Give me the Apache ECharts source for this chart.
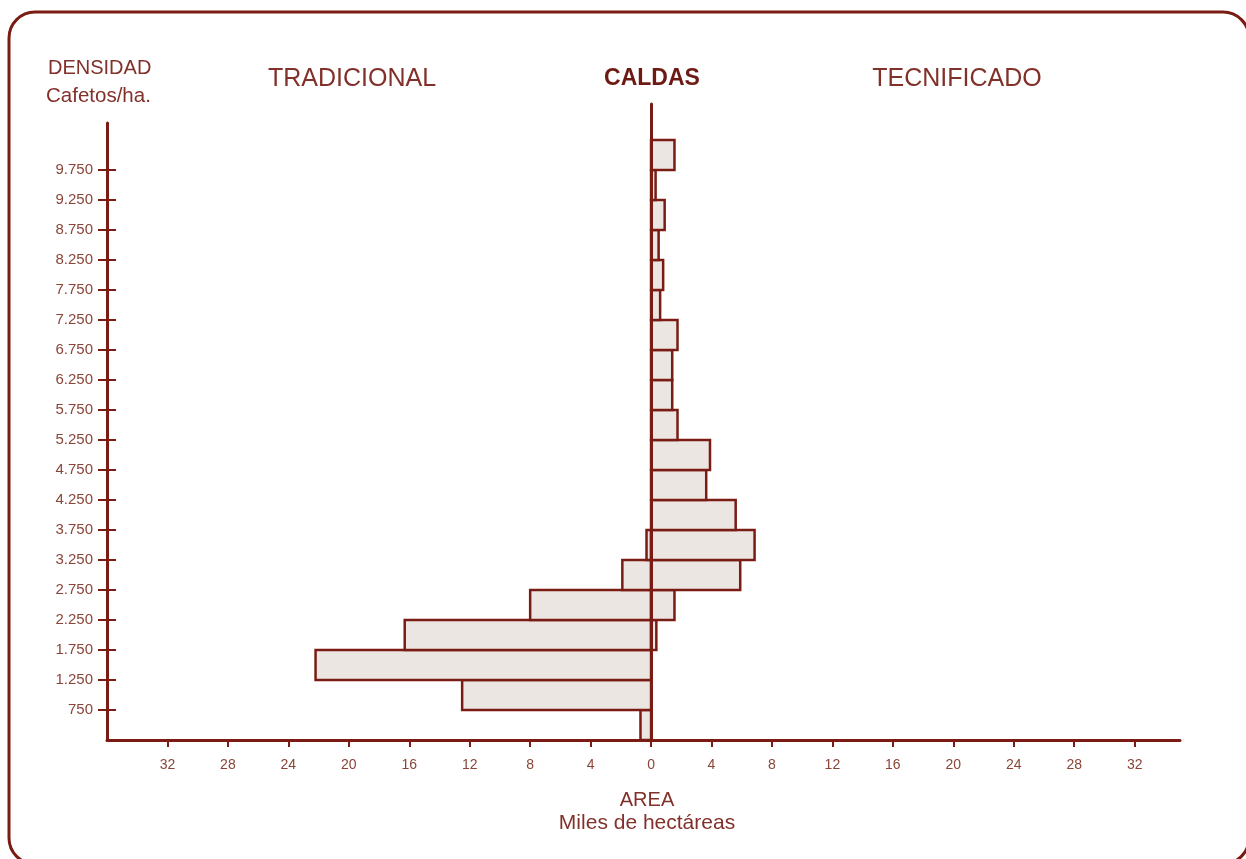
<!DOCTYPE html>
<html>
<head>
<meta charset="utf-8">
<script src="https://cdn.jsdelivr.net/npm/echarts@6/dist/echarts.min.js"></script>
<style>
html,body{margin:0;padding:0;background:#fff;}
#chart{width:1246px;height:859px;}
</style>
</head>
<body>
<div id="chart"></div>
<script>
// Density class boundaries (Cafetos/ha.) shown on the vertical axis
const densityLabels = ['750','1.250','1.750','2.250','2.750','3.250','3.750','4.250','4.750','5.250','5.750','6.250','6.750','7.250','7.750','8.250','8.750','9.250','9.750'];
// Area (miles de hectáreas) per density class, from lowest class upwards (20 classes)
const tradicional = [0.7, 12.5, 22.2, 16.3, 8.0, 1.9, 0.3, 0, 0, 0, 0, 0, 0, 0, 0, 0, 0, 0, 0, 0];
const tecnificado = [0, 0, 0, 0.35, 1.55, 5.9, 6.85, 5.6, 3.65, 3.9, 1.75, 1.4, 1.4, 1.75, 0.6, 0.8, 0.5, 0.9, 0.3, 1.55];
const xTickValues = [-32, -28, -24, -20, -16, -12, -8, -4, 0, 4, 8, 12, 16, 20, 24, 28, 32];

const LINE = '#7a1c14';
const TEXT = '#82302a';
const TICKTEXT = '#8a4538';
const FILL = '#ece6e3';
const FONT = '"Liberation Sans", Arial, sans-serif';

const yTickValues = densityLabels.map((_, i) => i + 1);

function renderBar(params, api) {
  const i = api.value(0);
  const v = api.value(1);
  if (!v) return null;
  const p0 = api.coord([0, i]);
  const p1 = api.coord([v, i + 1]);
  const x = Math.min(p0[0], p1[0]);
  return {
    type: 'rect',
    shape: { x: x, y: p1[1], width: Math.abs(p1[0] - p0[0]), height: p0[1] - p1[1] },
    style: { fill: FILL, stroke: LINE, lineWidth: 2.5 }
  };
}

const chart = echarts.init(document.getElementById('chart'));
chart.setOption({
  animation: false,
  backgroundColor: '#fff',
  textStyle: { fontFamily: FONT },
  graphic: [
    { type: 'rect', shape: { x: 9, y: 12, width: 1240, height: 852, r: 26 },
      style: { fill: 'none', stroke: LINE, lineWidth: 3 }, z: -1 },
    { type: 'text', x: 48, y: 68, style: { text: 'DENSIDAD', fill: TEXT, font: '20px ' + FONT, verticalAlign: 'middle' } },
    { type: 'text', x: 46, y: 96, style: { text: 'Cafetos/ha.', fill: TEXT, font: '20.5px ' + FONT, verticalAlign: 'middle' } },
    { type: 'text', x: 352, y: 79, style: { text: 'TRADICIONAL', fill: TEXT, font: '25px ' + FONT, align: 'center', verticalAlign: 'middle' } },
    { type: 'text', x: 652, y: 79, style: { text: 'CALDAS', fill: '#6e1a14', font: 'bold 23px ' + FONT, align: 'center', verticalAlign: 'middle' } },
    { type: 'text', x: 957, y: 79, style: { text: 'TECNIFICADO', fill: TEXT, font: '25px ' + FONT, align: 'center', verticalAlign: 'middle' } },
    { type: 'text', x: 647, y: 800, style: { text: 'AREA', fill: TEXT, font: '20px ' + FONT, align: 'center', verticalAlign: 'middle' } },
    { type: 'text', x: 647, y: 823, style: { text: 'Miles de hectáreas', fill: TEXT, font: '21px ' + FONT, align: 'center', verticalAlign: 'middle' } }
  ],
  grid: [
    { left: 107, right: 66, top: 104, bottom: 119 },
    { left: 107, right: 66, top: 123, bottom: 119 }
  ],
  xAxis: [
    {
      gridIndex: 0, type: 'value', min: -36, max: 35, interval: 4,
      axisLine: { show: true, onZero: false, lineStyle: { color: LINE, width: 3 } },
      axisTick: { show: true, length: 7, customValues: xTickValues, lineStyle: { color: LINE, width: 2 } },
      axisLabel: { customValues: xTickValues, margin: 18, color: TICKTEXT, fontSize: 14, formatter: v => String(Math.abs(v)) },
      splitLine: { show: false }
    },
    { gridIndex: 1, type: 'value', min: -36, max: 35, show: false }
  ],
  yAxis: [
    {
      gridIndex: 0, type: 'value', min: 0, max: 21.2, z: 5,
      axisLine: { show: true, onZero: true, lineStyle: { color: LINE, width: 3 } },
      axisTick: { show: false }, axisLabel: { show: false }, splitLine: { show: false }
    },
    {
      gridIndex: 1, type: 'value', min: 0, max: 20.57, position: 'left',
      axisLine: { show: true, onZero: false, lineStyle: { color: LINE, width: 3 } },
      axisTick: { show: true, length: 9, customValues: yTickValues, lineStyle: { color: LINE, width: 2 } },
      axisLabel: { customValues: yTickValues, margin: 14, color: TICKTEXT, fontSize: 15,
        formatter: v => densityLabels[Math.round(v) - 1] || '' },
      splitLine: { show: false }
    },
    {
      gridIndex: 1, type: 'value', min: 0, max: 20.57, position: 'left',
      axisLine: { show: false, onZero: false },
      axisTick: { show: true, inside: true, length: 9, customValues: yTickValues, lineStyle: { color: LINE, width: 2 } },
      axisLabel: { show: false }, splitLine: { show: false }
    }
  ],
  series: [
    {
      name: 'Tradicional', type: 'custom', xAxisIndex: 0, yAxisIndex: 0,
      renderItem: renderBar,
      data: tradicional.map((v, i) => [i, -v])
    },
    {
      name: 'Tecnificado', type: 'custom', xAxisIndex: 0, yAxisIndex: 0,
      renderItem: renderBar,
      data: tecnificado.map((v, i) => [i, v])
    }
  ]
});
</script>
</body>
</html>
